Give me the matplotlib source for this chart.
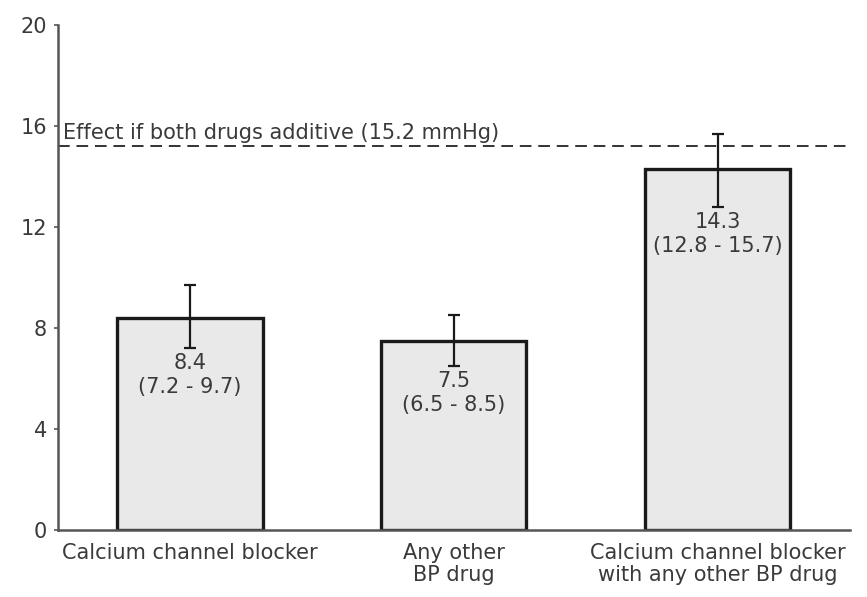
import matplotlib
matplotlib.use("Agg")
import matplotlib.pyplot as plt

categories = ["Calcium channel blocker", "Any other\nBP drug",
              "Calcium channel blocker\nwith any other BP drug"]
values = [8.4, 7.5, 14.3]
lower = [7.2, 6.5, 12.8]
upper = [9.7, 8.5, 15.7]
additive = 15.2
yticks = [0, 4, 8, 12, 16, 20]

plt.rcParams['font.family'] = ['DejaVu Sans']
txt = '#3a3a3a'
fs = 15

fig = plt.figure(figsize=(8.67, 5.97), dpi=100)
ax = fig.add_axes([0.067, 0.112, 0.913, 0.846])

x = list(range(len(categories)))
ax.bar(x, values, width=0.55, color='#e9e9e9', edgecolor='#1a1a1a', linewidth=2.4, zorder=2)
yerr = [[v - l for v, l in zip(values, lower)], [u - v for u, v in zip(upper, values)]]
ax.errorbar(x, values, yerr=yerr, fmt='none', ecolor='#1a1a1a', elinewidth=1.6,
            capsize=4, capthick=1.6, zorder=3)

for xi, v, l, u in zip(x, values, lower, upper):
    ax.text(xi, l - 0.2, f"{v}\n({l} - {u})", ha='center', va='top',
            fontsize=fs, color=txt, linespacing=1.25, zorder=4)

ax.axhline(additive, color='#333333', linestyle=(0, (6, 3.5)), linewidth=1.4, zorder=1)
ax.text(-0.48, additive + 0.12, f"Effect if both drugs additive ({additive} mmHg)",
        ha='left', va='bottom', fontsize=fs, color=txt)

ax.set_xlim(-0.5, 2.5)
ax.set_ylim(0, 20)
ax.set_yticks(yticks)
ax.set_xticks(x)
ax.set_xticklabels(categories, fontsize=fs, color=txt, linespacing=1.15)
ax.tick_params(axis='x', length=0, pad=9)
ax.tick_params(axis='y', length=3, width=1.2, color='#555555', labelsize=fs,
               labelcolor=txt, pad=5)
for s in ['top', 'right']:
    ax.spines[s].set_visible(False)
for s in ['left', 'bottom']:
    ax.spines[s].set_color('#555555')
    ax.spines[s].set_linewidth(1.8)

fig.savefig("out.png", dpi=100)
